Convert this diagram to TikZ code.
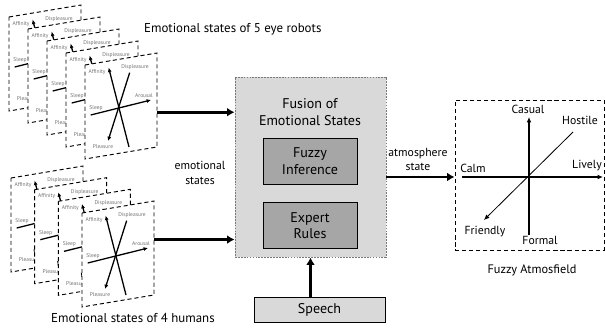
\documentclass[tikz,border=0pt]{standalone}
\usepackage{fontspec}
\setmainfont{PT Sans}
\usepackage{tikz}
\usetikzlibrary{positioning,arrows.meta,calc}
\tikzset{
  flowarrow/.style={-{Latex[length=2.2mm,width=2.6mm]}, line width=2.2pt},
  cardarrow/.style={-{Latex[length=1.3mm,width=1.2mm]}, line width=1.1pt},
  axisarrow/.style={-{Latex[length=1.6mm,width=1.4mm]}, line width=1pt},
  card/.style={draw, fill=white, line width=0.8pt, dash pattern=on 3.5pt off 2.5pt},
  cardlabel/.style={font=\fontsize{4.7}{5}\selectfont, text=gray!90!black, inner sep=0.5pt},
  fusionbox/.style={draw=gray!95!black, fill=gray!30, line width=0.8pt, dash pattern=on 1.5pt off 1pt, minimum width=4.53cm, minimum height=5.4cm},
  rulebox/.style={draw, thick, fill=gray!70, minimum width=2.82cm, minimum height=1.38cm, align=center, font=\fontsize{12}{14.5}\selectfont},
  speechbox/.style={draw, thick, fill=gray!30, minimum width=3.93cm, minimum height=0.75cm, font=\fontsize{12}{13}\selectfont},
  fieldbox/.style={draw, line width=0.8pt, dash pattern=on 3.5pt off 2.5pt, minimum width=4.47cm, minimum height=4.5cm},
  relabel/.style={font=\fontsize{10}{12.5}\selectfont, align=center, inner sep=1pt},
  emocard/.pic={
    \draw[card] (0,0) -- (2.16,0.36) -- (2.16,-2.46) -- (0,-2.82) -- cycle;
    \coordinate (-ne) at (2.16,0.36);
    \coordinate (-se) at (2.16,-2.46);
    \draw[cardarrow] (1.32,-2.46) -- (0.71,-0.08);
    \draw[cardarrow] (1.34,-0.23) -- (0.69,-2.28);
    \draw[cardarrow] (0.17,-1.5) -- (1.98,-1.05);
    \node[cardlabel] (-aff) at (0.36,-0.2) {Affinity};
    \node[cardlabel] (-dis) at (1.5,-0.06) {Displeasure};
    \node[cardlabel] (-aro) at (1.77,-0.92) {Arousal};
    \node[cardlabel] (-slp) at (0.33,-1.29) {Sleep};
    \node[cardlabel] (-plz) at (0.54,-2.46) {Pleasure};
  }
}

\begin{document}
\begin{tikzpicture}
  \useasboundingbox (0,0) rectangle (18.18,-9.93);

  % eye robots
  \pic (r1) at (0.27,-0.51) {emocard};
  \pic (r2) at (0.84,-0.87) {emocard};
  \pic (r3) at (1.41,-1.23) {emocard};
  \pic (r4) at (1.98,-1.59) {emocard};
  \pic (r5) at (2.55,-1.95) {emocard};
  \node[anchor=west, font=\fontsize{11}{12}\selectfont] (robottitle) at (4.2,-0.87) {Emotional states of 5 eye robots};

  % humans
  \pic (h1) at (0.33,-5.34) {emocard};
  \pic (h2) at (1.04,-5.69) {emocard};
  \pic (h3) at (1.75,-6.04) {emocard};
  \pic (h4) at (2.46,-6.39) {emocard};
  \node[anchor=west, font=\fontsize{11}{12}\selectfont] (humantitle) at (1.41,-9.54) {Emotional states of 4 humans};

  % fusion
  \node[fusionbox] (fusion) at (9.315,-5.01) {};
  \node[align=center, font=\fontsize{12}{15}\selectfont] (fusiontitle) at (9.3,-3.36) {Fusion of\\Emotional States};
  \node[rulebox] (fuzzy) at (9.3,-4.83) {Fuzzy\\Inference};
  \node[rulebox] (expert) at (9.3,-6.77) {Expert\\Rules};
  \node[speechbox] (speech) at (9.585,-9.285) {Speech};
  \node[relabel] (emolabel) at (6.0,-5.19) {emotional\\states};

  \coordinate (rout) at ($(r5-ne)!0.63!(r5-se)$);
  \coordinate (hout) at ($(h4-ne)!0.41!(h4-se)$);
  \draw[flowarrow] (rout) -- (rout -| fusion.west);
  \draw[flowarrow] (hout) -- (hout -| fusion.west);
  \draw[flowarrow] (speech.north -| fusion.south) -- (fusion.south);

  % fuzzy atmosfield
  \node[fieldbox] (field) at (15.885,-5.25) {};
  \coordinate (origin) at (15.87,-5.31);
  \draw[flowarrow] (fusion.east |- origin) -- (field.west |- origin);
  \node[relabel] (atmolabel) at (12.54,-4.785) {atmosphere\\state};

  \coordinate (calmend) at (13.86,-5.31);
  \coordinate (livelyend) at (18.09,-5.31);
  \coordinate (formalend) at (15.87,-7.05);
  \coordinate (casualend) at (15.87,-3.51);
  \coordinate (hostileend) at (17.19,-3.96);
  \coordinate (friendlyend) at (14.52,-6.6);
  \draw[axisarrow] (calmend) -- (livelyend);
  \draw[axisarrow] (formalend) -- (casualend);
  \draw[-{Latex[length=1.6mm,width=1.4mm]}, line width=0.7pt] (hostileend) -- (friendlyend);

  \node[relabel] (casual) at (15.84,-3.27) {Casual};
  \node[relabel] (hostile) at (17.4,-3.6) {Hostile};
  \node[relabel] (calm) at (14.19,-5.04) {Calm};
  \node[relabel] (lively) at (17.61,-4.98) {Lively};
  \node[relabel] (friendly) at (14.55,-6.96) {Friendly};
  \node[relabel] (formal) at (16.2,-7.2) {Formal};
  \node[relabel, font=\fontsize{10.5}{12}\selectfont] (fieldtitle) at (15.96,-8.1) {Fuzzy Atmosfield};
\end{tikzpicture}
\end{document}
